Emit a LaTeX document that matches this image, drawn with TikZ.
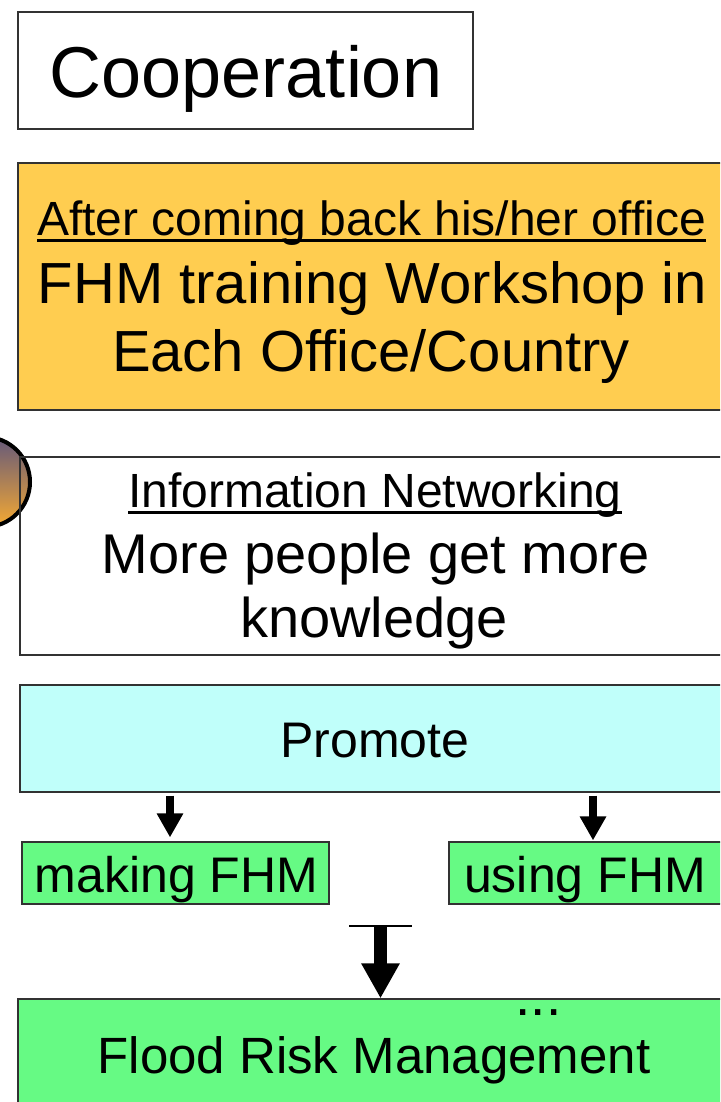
\documentclass[tikz,border=0pt]{standalone}
\usepackage{fontspec}
\setmainfont{Liberation Sans}
\usetikzlibrary{arrows.meta}
\newsavebox\ulbox
\newcommand\ulx[1]{\sbox\ulbox{#1}\rlap{\rule[-6.5pt]{\wd\ulbox}{3pt}}\usebox\ulbox}
\newcommand\fs[1]{\fontsize{#1}{#1}\selectfont}
\definecolor{orangefill}{RGB}{255,205,80}
\definecolor{cyanfill}{RGB}{192,255,250}
\definecolor{greenfill}{RGB}{102,250,132}
\definecolor{balltop}{RGB}{100,88,122}
\definecolor{ballbot}{RGB}{246,170,50}
\definecolor{edge}{RGB}{50,50,50}
\begin{document}
\begin{tikzpicture}[x=1pt,y=-1pt,
  box/.style={draw=edge, line width=1.2pt, inner sep=0pt},
  txt/.style={anchor=base, inner sep=0pt},
  arr/.style={line width=7.5pt, -{Triangle[width=25pt,length=24pt]}},
  bigarr/.style={line width=13pt, -{Triangle[width=36pt,length=35pt]}}]
\useasboundingbox (0,0) rectangle (720,1102);
\clip (0,0) rectangle (720,1102);

% Cooperation
\node[box, fill=white, minimum width=455pt, minimum height=117pt] (coop) at (245.5,70.5) {};
\node[txt, font=\fs{72}] (coopt) at (246,98) {Cooperation};

% Training workshop
\node[box, fill=orangefill, minimum width=707pt, minimum height=247pt] (train) at (371.5,286.5) {};
\node[txt, font=\fs{48}] (train1) at (371.5,235) {\ulx{After coming back his/her office}};
\node[txt, font=\fs{58}] (train2) at (372.5,303) {FHM training Workshop in};
\node[txt, font=\fs{58}] (train3) at (371,371) {Each Office/Country};

% ball
\node[circle, draw=black, line width=4pt, minimum size=90pt, inner sep=0pt,
      top color=balltop, bottom color=ballbot] (ball) at (-15,482) {};

% Information networking
\node[box, minimum width=710pt, minimum height=198pt] (info) at (375,556) {};
\node[txt, font=\fs{48}] (info1) at (375,507) {\ulx{Information Networking}};
\node[txt, font=\fs{56}] (info2) at (375.5,573) {More people get more};
\node[txt, font=\fs{56}] (info3) at (374,637) {knowledge};

% Promote
\node[box, fill=cyanfill, minimum width=710pt, minimum height=107pt] (promote) at (375,738.5) {};
\node[txt, font=\fs{50}] (promotet) at (375,757) {Promote};

% making / using
\node[box, fill=greenfill, minimum width=307pt, minimum height=62pt] (making) at (175.5,873) {};
\node[txt, font=\fs{50}] (makingt) at (176.5,892) {making FHM};
\node[box, fill=greenfill, minimum width=273pt, minimum height=62pt] (using) at (585.5,873) {};
\node[txt, font=\fs{50}] (usingt) at (585,892) {using FHM};

% Flood risk management
\node[box, fill=greenfill, minimum width=712pt, minimum height=113pt] (flood) at (374,1055.5) {};
\node[txt, font=\fs{55}] (dots) at (538.5,1015) {...};
\node[txt, font=\fs{51}] (floodt) at (374,1073) {Flood Risk Management};

% arrows
\draw[arr, shorten <=3pt, shorten >=4pt] (promote.south -| 170,0) -- (making.north -| 170,0);
\draw[arr, shorten <=3pt, shorten >=1pt] (promote.south -| 593,0) -- (using.north -| 593,0);

\coordinate (tl) at (349,926);
\coordinate (tr) at (412,926);
\coordinate (tm) at (380.5,926);
\draw[line width=2pt] (tl) -- (tr);
\draw[bigarr] (tm) -- (flood.north -| tm);
\end{tikzpicture}
\end{document}
